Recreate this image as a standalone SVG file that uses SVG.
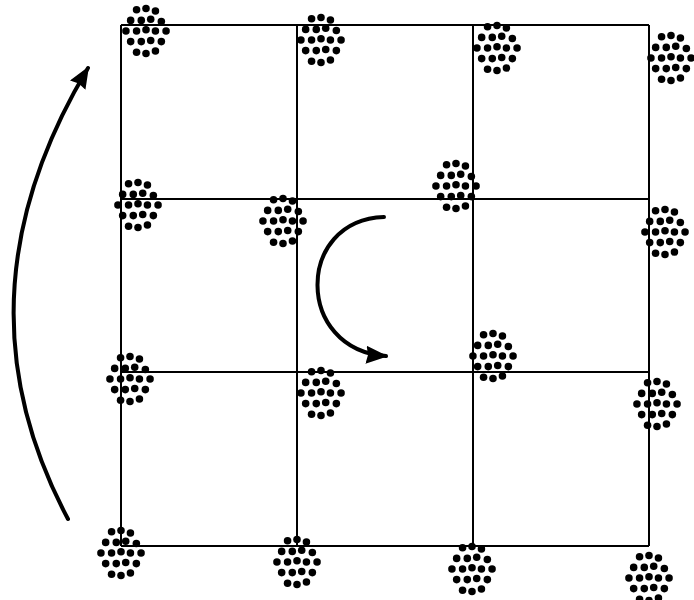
<svg xmlns="http://www.w3.org/2000/svg" xmlns:xlink="http://www.w3.org/1999/xlink" width="694" height="600" viewBox="0 0 694 600">
<style>
.grid{stroke:#000;stroke-width:2;fill:none}
.arr{stroke:#000;stroke-width:4;fill:none;stroke-linecap:round}
.dot{fill:#000}
</style>
<defs>
<marker id="ah" viewBox="0 0 22 18" refX="20" refY="9" markerWidth="22" markerHeight="18" markerUnits="userSpaceOnUse" orient="auto">
<path d="M0,0 L22,9 L0,18 L2,9 Z" fill="#000"/>
</marker>
<g id="cl" class="dot" transform="scale(1.18)">
<circle cx="-8" cy="-18" r="3.2"/><circle cx="0" cy="-19" r="3.2"/><circle cx="8" cy="-17" r="3.2"/>
<circle cx="-13" cy="-9" r="3.2"/><circle cx="-4" cy="-9" r="3.2"/><circle cx="4" cy="-10" r="3.2"/><circle cx="13" cy="-8" r="3.2"/>
<circle cx="-17" cy="0" r="3.2"/><circle cx="-8" cy="0" r="3.2"/><circle cx="0" cy="-1" r="3.2"/><circle cx="8" cy="0" r="3.2"/><circle cx="17" cy="0" r="3.2"/>
<circle cx="-13" cy="9" r="3.2"/><circle cx="-4" cy="9" r="3.2"/><circle cx="4" cy="8" r="3.2"/><circle cx="13" cy="9" r="3.2"/>
<circle cx="-8" cy="18" r="3.2"/><circle cx="0" cy="19" r="3.2"/><circle cx="8" cy="17" r="3.2"/>
</g>
</defs>
<g id="grid" class="grid">
<line x1="121" y1="25" x2="649" y2="25"/>
<line x1="121" y1="199" x2="649" y2="199"/>
<line x1="121" y1="372" x2="649" y2="372"/>
<line x1="121" y1="546" x2="649" y2="546"/>
<line x1="121" y1="25" x2="121" y2="546"/>
<line x1="297" y1="25" x2="297" y2="546"/>
<line x1="473" y1="25" x2="473" y2="546"/>
<line x1="649" y1="25" x2="649" y2="546"/>
</g>
<g id="clusters">
<use xlink:href="#cl" href="#cl" x="146" y="31"/>
<use xlink:href="#cl" href="#cl" x="321" y="40"/>
<use xlink:href="#cl" href="#cl" x="497" y="48"/>
<use xlink:href="#cl" href="#cl" x="671" y="58"/>
<use xlink:href="#cl" href="#cl" x="138" y="205"/>
<use xlink:href="#cl" href="#cl" x="283" y="221"/>
<use xlink:href="#cl" href="#cl" x="456" y="186"/>
<use xlink:href="#cl" href="#cl" x="665" y="232"/>
<use xlink:href="#cl" href="#cl" x="130" y="379"/>
<use xlink:href="#cl" href="#cl" x="321" y="393"/>
<use xlink:href="#cl" href="#cl" x="493" y="356"/>
<use xlink:href="#cl" href="#cl" x="657" y="404"/>
<use xlink:href="#cl" href="#cl" x="121" y="553"/>
<use xlink:href="#cl" href="#cl" x="297" y="562"/>
<use xlink:href="#cl" href="#cl" x="472" y="569"/>
<use xlink:href="#cl" href="#cl" x="649" y="578"/>
</g>
<g id="connectors">
<path class="arr" d="M68,519 Q-50,298 88,68" marker-end="url(#ah)"/>
<path class="arr" d="M384,217 C295,220 295,350 386,356" marker-end="url(#ah)"/>
</g>
</svg>
